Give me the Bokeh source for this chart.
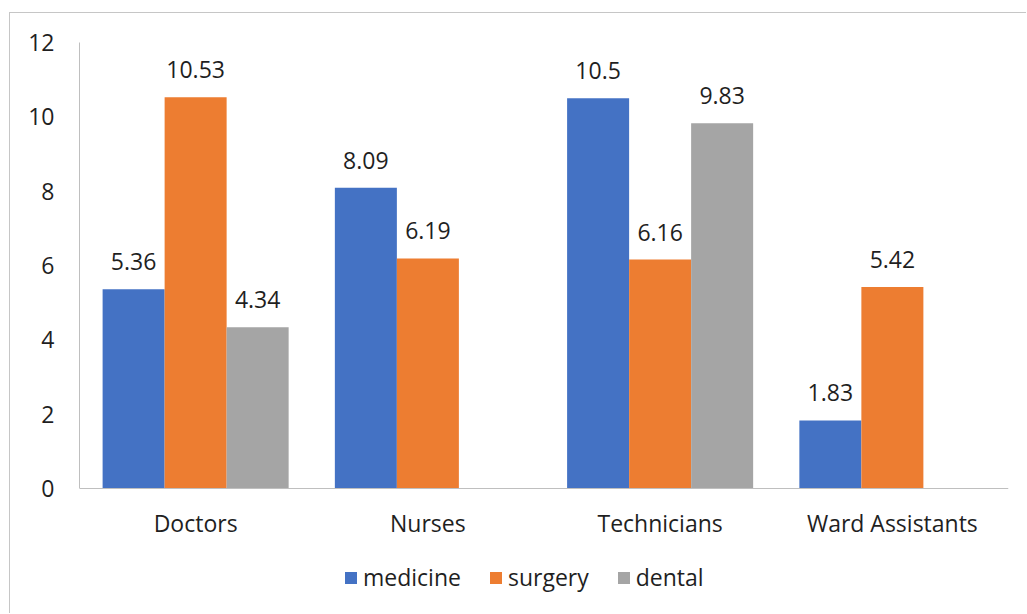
from bokeh.plotting import figure
from bokeh.models import ColumnDataSource, FactorRange, LabelSet, Legend, LegendItem, FixedTicker
from bokeh.transform import dodge
from bokeh.core.properties import value
from bokeh.embed import file_html
from bokeh.resources import INLINE

categories = ["Doctors", "Nurses", "Technicians", "Ward Assistants"]
series_names = ["medicine", "surgery", "dental"]
medicine = [5.36, 8.09, 10.5, 1.83]
surgery = [10.53, 6.19, 6.16, 5.42]
dental = [4.34, None, 9.83, None]
y_ticks = [0, 2, 4, 6, 8, 10, 12]
colors = ["#4472C4", "#ED7D31", "#A5A5A5"]

FONT = "Open Sans"
FS = "23px"
TEXT = "#1f1f1f"
BAR_W = 0.267

# frame extends below the value axis to hold the legend; 0 sits on the category axis
p = figure(x_range=FactorRange(*categories), y_range=(-3.121, 12),
           width=1017, height=601, output_backend="svg", toolbar_location=None,
           min_border_left=69, min_border_top=29, min_border_right=19,
           min_border_bottom=10)
p.margin = (12, 0, 0, 9)
p.styles = {"border-top": "1px solid #c6c6c6", "border-left": "1px solid #c6c6c6"}
p.outline_line_color = None
p.xgrid.grid_line_color = None
p.ygrid.grid_line_color = None
p.x_range.range_padding = 0

items = []
for i, (name, vals) in enumerate(zip(series_names, [medicine, surgery, dental])):
    xs = [c for c, v in zip(categories, vals) if v is not None]
    ys = [v for v in vals if v is not None]
    src = ColumnDataSource(dict(x=xs, top=ys, lab=[str(v) for v in ys]))
    off = (i - 1) * BAR_W
    r = p.vbar(x=dodge("x", off, range=p.x_range), top="top", bottom=0, width=BAR_W,
               source=src, fill_color=colors[i], line_color=None)
    items.append(LegendItem(label=name, renderers=[r]))
    labels = LabelSet(x=dodge("x", off, range=p.x_range), y="top", text="lab",
                      source=src, text_align="center", text_baseline="alphabetic",
                      y_offset=19, text_font=value(FONT), text_font_size=FS,
                      text_color=TEXT)
    p.add_layout(labels)

p.yaxis.ticker = FixedTicker(ticks=y_ticks)
p.yaxis.bounds = (0, 12)
p.xaxis.fixed_location = 0
for ax in (p.xaxis, p.yaxis):
    ax.major_tick_line_color = None
    ax.minor_tick_line_color = None
    ax.axis_line_color = "#bfbfbf"
    ax.axis_line_width = 1
    ax.major_label_text_font = FONT
    ax.major_label_text_font_size = FS
    ax.major_label_text_color = TEXT
p.yaxis.major_label_standoff = 19
p.xaxis.major_label_standoff = 12

legend = Legend(items=items, orientation="horizontal", location=(264, 11),
                label_text_font=FONT, label_text_font_size=FS,
                label_text_color=TEXT, glyph_width=15, glyph_height=15,
                spacing=27, label_standoff=5, border_line_color=None,
                background_fill_alpha=0, padding=0, margin=0)
p.add_layout(legend)

open("out.html", "w").write(file_html(p, INLINE))
